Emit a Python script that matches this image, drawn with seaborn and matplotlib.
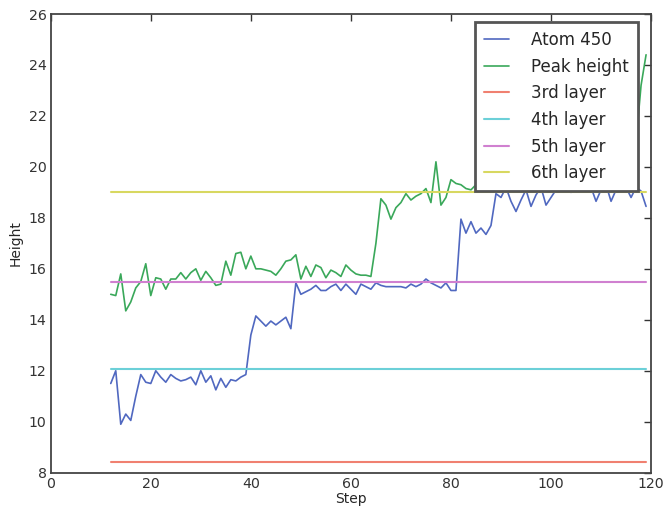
import matplotlib
matplotlib.use('Agg')
import matplotlib.pyplot as plt
import numpy as np
import pandas as pd
import seaborn as sns

# steps 12..119
steps = list(range(12, 120))

atom_450 = [
    11.5, 12.0, 9.9, 10.3, 10.05, 11.0, 11.85, 11.55, 11.5, 12.0,
    11.75, 11.55, 11.85, 11.7, 11.6, 11.65, 11.75, 11.45, 12.0, 11.55,
    11.8, 11.25, 11.7, 11.35, 11.65, 11.6, 11.75, 11.85, 13.4, 14.15,
    13.95, 13.75, 13.95, 13.8, 13.95, 14.1, 13.65, 15.45, 15.0, 15.1,
    15.2, 15.35, 15.15, 15.15, 15.3, 15.4, 15.15, 15.4, 15.2, 15.0,
    15.4, 15.3, 15.2, 15.45, 15.35, 15.3, 15.3, 15.3, 15.3, 15.25,
    15.4, 15.3, 15.4, 15.6, 15.45, 15.35, 15.25, 15.45, 15.15, 15.15,
    17.95, 17.4, 17.85, 17.4, 17.6, 17.35, 17.7, 18.95, 18.8, 19.2,
    18.65, 18.25, 18.7, 19.1, 18.45, 18.9, 19.2, 18.5, 18.8, 19.1,
    19.3, 19.15, 19.0, 19.2, 19.4, 19.1, 19.2, 18.65, 19.1, 19.3,
    18.65, 19.1, 19.3, 19.2, 18.8, 19.2, 19.05, 18.45,
]

peak_height = [
    15.0, 14.95, 15.8, 14.35, 14.7, 15.25, 15.5, 16.2, 14.95, 15.65,
    15.6, 15.2, 15.6, 15.6, 15.85, 15.6, 15.85, 16.0, 15.55, 15.9,
    15.65, 15.35, 15.4, 16.3, 15.75, 16.6, 16.65, 16.0, 16.5, 16.0,
    16.0, 15.95, 15.9, 15.75, 16.0, 16.3, 16.35, 16.55, 15.6, 16.1,
    15.7, 16.15, 16.05, 15.65, 15.95, 15.85, 15.7, 16.15, 15.95, 15.8,
    15.75, 15.75, 15.7, 17.0, 18.75, 18.5, 17.95, 18.4, 18.6, 18.95,
    18.7, 18.85, 18.95, 19.15, 18.6, 20.2, 18.5, 18.8, 19.5, 19.35,
    19.3, 19.15, 19.1, 19.3, 19.5, 19.4, 19.7, 19.6, 19.9, 19.5,
    19.8, 20.1, 19.7, 19.6, 19.9, 20.2, 19.8, 19.7, 20.0, 19.9,
    20.3, 19.8, 20.1, 20.0, 20.4, 19.9, 20.2, 20.5, 20.1, 20.3,
    20.6, 20.2, 20.4, 20.8, 20.5, 21.0, 23.2, 24.4,
]

layer_names = ['3rd layer', '4th layer', '5th layer', '6th layer']
layer_heights = [8.4, 12.05, 15.5, 19.0]

series_colors = ['#5068c0', '#3aa85a']
layer_colors = ['#f08070', '#6cd0d8', '#d080d0', '#d8d860']

df = pd.DataFrame({'Step': steps, 'Atom 450': atom_450, 'Peak height': peak_height})
for name, h in zip(layer_names, layer_heights):
    df[name] = h

sns.set_style('white')
plt.rcParams['font.family'] = ['DejaVu Sans']

fig = plt.figure(figsize=(6.63, 5.11), dpi=100)
ax = fig.add_axes([0.0765, 0.075, 0.9055, 0.8976])

sns.lineplot(data=df, x='Step', y='Atom 450', color=series_colors[0],
             label='Atom 450', lw=1.2, ax=ax)
sns.lineplot(data=df, x='Step', y='Peak height', color=series_colors[1],
             label='Peak height', lw=1.2, ax=ax)
for name, c in zip(layer_names, layer_colors):
    sns.lineplot(data=df, x='Step', y=name, color=c, label=name, lw=1.5, ax=ax)

# axes
ax.set_xlim(0, 120)
ax.set_ylim(8, 26)
ax.set_xticks(np.arange(0, 121, 20))
ax.set_yticks(np.arange(8, 27, 2))
ax.set_xlabel('Step', fontsize=10, labelpad=1)
ax.set_ylabel('Height', fontsize=10, labelpad=4)
ax.tick_params(direction='in', length=5, width=1, top=True, right=True,
               labelsize=10.2, colors='#333333', pad=3)
for s in ax.spines.values():
    s.set_visible(True)
    s.set_color('#444444')
    s.set_linewidth(1.3)

# legend
leg = ax.legend(loc='upper right', bbox_to_anchor=(0.978, 0.983), fontsize=12,
                frameon=True, fancybox=False, framealpha=1, borderpad=0.55,
                handlelength=1.5, handletextpad=1.3, labelspacing=0.52,
                borderaxespad=0)
leg.get_frame().set_edgecolor('#555555')
leg.get_frame().set_linewidth(2)

fig.savefig('out.png', dpi=100)
plt.close()
